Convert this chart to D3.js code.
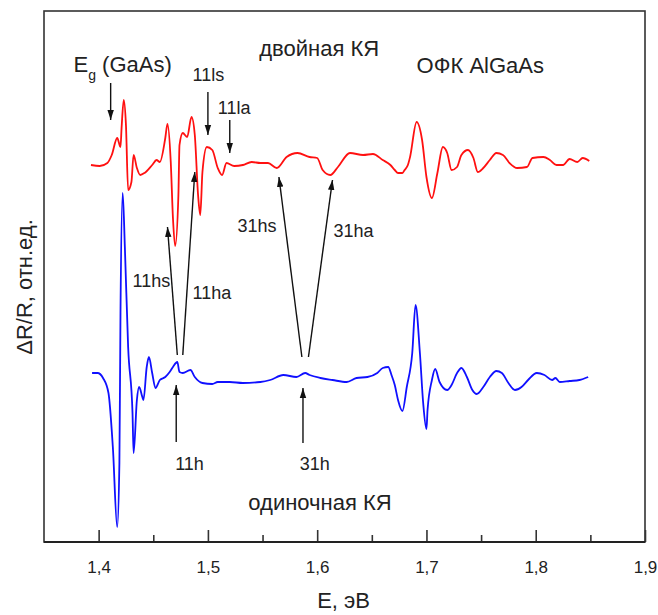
<!DOCTYPE html>
<html>
<head>
<meta charset="utf-8">
<script src="https://cdn.jsdelivr.net/npm/d3@7"></script>
<style>
  body { margin: 0; background: #fff; }
  svg text { font-family: "Liberation Sans", Arial, sans-serif; fill: #222; }
  .line { fill: none; stroke-width: 1.8px; stroke-linejoin: round; }
</style>
</head>
<body>
<div id="chart"></div>
<script>
// photon energy, eV, and dR/R (arbitrary units, curves already shifted)
const doubleE = [1.393,1.401,1.408,1.412,1.417,1.420,1.421,1.423,1.425,1.427,1.430,1.432,1.435,1.438,1.442,1.449,1.453,1.456,1.461,1.463,1.466,1.468,1.470,1.473,1.474,1.477,1.481,1.485,1.488,1.491,1.493,1.495,1.499,1.504,1.509,1.513,1.517,1.524,1.532,1.540,1.548,1.555,1.563,1.572,1.582,1.593,1.600,1.605,1.612,1.619,1.630,1.642,1.651,1.660,1.667,1.671,1.674,1.678,1.680,1.683,1.685,1.691,1.696,1.700,1.705,1.710,1.715,1.719,1.723,1.728,1.732,1.738,1.743,1.747,1.752,1.758,1.764,1.770,1.776,1.783,1.792,1.797,1.807,1.813,1.819,1.825,1.831,1.838,1.843,1.849];
const doubleR = [3.77,3.76,3.79,3.87,4.04,3.95,4.14,4.42,4.17,3.52,3.60,3.87,3.74,3.67,3.69,3.77,3.82,3.80,4.04,4.18,3.80,3.24,2.96,3.47,3.97,4.09,4.05,4.25,4.07,3.47,3.27,3.70,3.95,3.92,3.74,3.67,3.79,3.76,3.77,3.80,3.79,3.79,3.74,3.85,3.89,3.85,3.84,3.72,3.67,3.75,3.89,3.87,3.88,3.82,3.77,3.72,3.69,3.69,3.72,3.77,3.85,4.20,4.02,3.65,3.44,3.69,3.95,3.89,3.72,3.75,3.87,3.92,3.84,3.70,3.74,3.82,3.89,3.87,3.79,3.74,3.75,3.84,3.85,3.82,3.77,3.77,3.83,3.80,3.84,3.81];

const singleE = [1.394,1.399,1.404,1.409,1.413,1.417,1.419,1.420,1.422,1.424,1.427,1.431,1.432,1.435,1.437,1.440,1.441,1.444,1.446,1.449,1.452,1.456,1.461,1.465,1.468,1.472,1.474,1.477,1.484,1.488,1.495,1.504,1.509,1.520,1.532,1.548,1.557,1.569,1.581,1.589,1.593,1.603,1.614,1.627,1.636,1.646,1.655,1.660,1.665,1.668,1.671,1.674,1.678,1.682,1.687,1.690,1.694,1.697,1.700,1.701,1.705,1.708,1.712,1.719,1.723,1.728,1.732,1.737,1.742,1.746,1.752,1.758,1.764,1.769,1.775,1.781,1.787,1.793,1.801,1.808,1.815,1.818,1.822,1.831,1.840,1.848];
const singleR = [1.69,1.69,1.64,1.49,0.95,0.15,0.79,2.29,3.49,2.95,1.95,1.29,0.89,1.42,1.55,1.45,1.42,1.75,1.85,1.69,1.54,1.62,1.65,1.70,1.75,1.80,1.70,1.69,1.72,1.65,1.59,1.58,1.60,1.60,1.59,1.60,1.62,1.67,1.65,1.69,1.67,1.64,1.62,1.60,1.64,1.65,1.69,1.74,1.75,1.67,1.57,1.42,1.31,1.55,1.89,2.37,1.89,1.39,1.13,1.32,1.62,1.73,1.60,1.52,1.57,1.69,1.74,1.65,1.52,1.48,1.55,1.65,1.71,1.69,1.59,1.52,1.55,1.62,1.69,1.67,1.62,1.64,1.60,1.61,1.62,1.65];

const xTicks = [1.4,1.5,1.6,1.7,1.8,1.9];
const xMinor = [1.45,1.55,1.65,1.75,1.85];

// arrows: [E from, value from, E to, value to]
const arrows = [
  [1.411,4.59,1.411,4.22],
  [1.500,4.50,1.500,4.07],
  [1.520,4.22,1.520,3.89],
  [1.472,1.87,1.463,3.15],
  [1.477,1.87,1.488,3.70],
  [1.586,1.85,1.565,3.65],
  [1.592,1.85,1.614,3.62],
  [1.471,1.00,1.471,1.57],
  [1.587,0.99,1.587,1.54]
];
const smallLabels = [
  ["11ls",1.486,4.61],["11la",1.509,4.28],["11hs",1.431,2.55],["11ha",1.486,2.43],
  ["31hs",1.527,3.10],["31ha",1.615,3.05],["11h",1.470,0.72],["31h",1.584,0.72]
];
const bigLabels = [
  ["двойная КЯ",1.547,4.86],["ОФК AlGaAs",1.691,4.69],["одиночная КЯ",1.537,0.32]
];

const W = 658, H = 615;
const margin = {top: 11, right: 13, bottom: 73, left: 44};
const width = W - margin.left - margin.right,
      height = H - margin.top - margin.bottom;

const svg = d3.select('#chart').append('svg')
  .attr('width', W).attr('height', H);

svg.append('defs').append('marker')
  .attr('id','head').attr('viewBox','0 0 10 10')
  .attr('refX',10).attr('refY',5)
  .attr('markerWidth',10).attr('markerHeight',10)
  .attr('markerUnits','userSpaceOnUse')
  .attr('orient','auto')
  .append('path').attr('d','M0,1.8 L10,5 L0,8.2 Z').attr('fill','#111');

const g = svg.append('g').attr('transform','translate(' + margin.left + ',' + margin.top + ')');

const x = d3.scaleLinear().domain([1.35,1.9]).range([0,width]);
const y = d3.scaleLinear().domain([0,5.31]).range([height,0]);

const line = d3.line().x(d => x(d[0])).y(d => y(d[1])).curve(d3.curveMonotoneX);

g.append('path').datum(d3.zip(doubleE, doubleR))
  .attr('class','line').attr('stroke','#ff1010').attr('d', line);
g.append('path').datum(d3.zip(singleE, singleR))
  .attr('class','line').attr('stroke','#1010ff').attr('d', line);

// frame
g.append('rect').attr('width',width).attr('height',height)
  .attr('fill','none').attr('stroke','#333').attr('stroke-width',1.6);

const xAxis = g.append('g').attr('transform','translate(0,' + height + ')')
  .call(d3.axisBottom(x).tickValues(xTicks).tickSize(-12).tickPadding(19)
    .tickFormat(d => d3.format('.1f')(d).replace('.', ',')));
xAxis.select('.domain').remove();
xAxis.selectAll('line').attr('stroke','#333').attr('stroke-width',1.6);
xAxis.selectAll('text').attr('font-size',17).attr('fill','#333')
  .style('font-family','"Liberation Sans", Arial, sans-serif');

const xMin = g.append('g').attr('transform','translate(0,' + height + ')')
  .call(d3.axisBottom(x).tickValues(xMinor).tickSize(-7).tickFormat(''));
xMin.select('.domain').remove();
xMin.selectAll('line').attr('stroke','#333').attr('stroke-width',1.6);

// bottom axis line a bit heavier
g.append('line').attr('x1',0).attr('x2',width).attr('y1',height).attr('y2',height)
  .attr('stroke','#222').attr('stroke-width',2.2);

g.append('text').attr('x', x(1.6)).attr('y', height + 66)
  .attr('font-size',22).text('E, эВ');

svg.append('text')
  .attr('transform','translate(32,' + (margin.top + y(2.55)) + ') rotate(-90)')
  .attr('text-anchor','middle').attr('font-size',22).text('ΔR/R, отн.ед.');

// annotations
g.selectAll('.arrow').data(arrows).join('line')
  .attr('class','arrow')
  .attr('x1', d => x(d[0])).attr('y1', d => y(d[1]))
  .attr('x2', d => x(d[2])).attr('y2', d => y(d[3]))
  .attr('stroke','#111').attr('stroke-width',1.4)
  .attr('marker-end','url(#head)');

g.selectAll('.small').data(smallLabels).join('text')
  .attr('class','small')
  .attr('x', d => x(d[1])).attr('y', d => y(d[2]))
  .attr('font-size',18).text(d => d[0]);

g.selectAll('.big').data(bigLabels).join('text')
  .attr('class','big')
  .attr('x', d => x(d[1])).attr('y', d => y(d[2]))
  .attr('font-size',22).text(d => d[0]);

const eg = g.append('text').attr('x', x(1.377)).attr('y', y(4.70)).attr('font-size',22);
eg.append('tspan').text('E');
eg.append('tspan').attr('font-size',14).attr('dy',8).text('g');
eg.append('tspan').attr('dy',-8).text(' (GaAs)');
</script>
</body>
</html>
